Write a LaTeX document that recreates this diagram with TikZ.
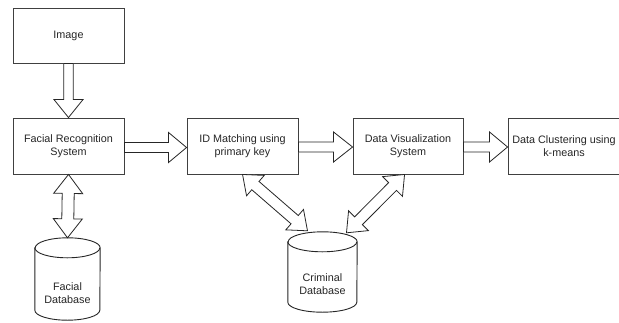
\documentclass[tikz,border=0pt]{standalone}
\usepackage{fontspec}
\setmainfont{Liberation Sans}
\usetikzlibrary{calc}

% hollow block arrow from #1 to #2: shaft half-width #3, head half-width #4, head length #5
\newcommand\blockarrow[5]{%
  \coordinate (ba-a) at (#1);
  \coordinate (ba-b) at (#2);
  \coordinate (ba-p) at ($(ba-b)!#5!(ba-a)$);
  \draw[arrowline]
    ($(ba-a)!#3!90:(ba-b)$) -- ($(ba-p)!#3!90:(ba-b)$) -- ($(ba-p)!#4!90:(ba-b)$)
    -- (ba-b)
    -- ($(ba-p)!#4!-90:(ba-b)$) -- ($(ba-p)!#3!-90:(ba-b)$) -- ($(ba-a)!#3!-90:(ba-b)$) -- cycle;
}
% hollow block arrow with heads at both ends
\newcommand\blockdarrow[5]{%
  \coordinate (ba-a) at (#1);
  \coordinate (ba-b) at (#2);
  \coordinate (ba-p) at ($(ba-b)!#5!(ba-a)$);
  \coordinate (ba-q) at ($(ba-a)!#5!(ba-b)$);
  \draw[arrowline]
    (ba-a) -- ($(ba-q)!#4!90:(ba-b)$) -- ($(ba-q)!#3!90:(ba-b)$)
    -- ($(ba-p)!#3!90:(ba-b)$) -- ($(ba-p)!#4!90:(ba-b)$)
    -- (ba-b)
    -- ($(ba-p)!#4!-90:(ba-b)$) -- ($(ba-p)!#3!-90:(ba-b)$)
    -- ($(ba-q)!#3!-90:(ba-b)$) -- ($(ba-q)!#4!-90:(ba-b)$) -- cycle;
}
% database cylinder drawn round node #1: half-width #2, end-ellipse radius #3
\newcommand\dbcylinder[3]{%
  \draw[cylline]
    ([yshift=-#3]#1.north west) -- ([yshift=#3]#1.south west)
    arc[start angle=180, end angle=360, x radius=#2, y radius=#3]
    -- ([yshift=-#3]#1.north east)
    arc[start angle=0, end angle=180, x radius=#2, y radius=#3] -- cycle;
  \draw[cylline, fill=none] ([yshift=-#3]#1.north west)
    arc[start angle=180, end angle=360, x radius=#2, y radius=#3];
}

\begin{document}
\begin{tikzpicture}[x=1pt,y=-1pt,
  font=\fontsize{10.8}{13}\selectfont,
  box/.style={draw=black!75, line width=0.9pt, fill=white, text=black!85,
    minimum width=111pt, minimum height=56pt, align=center, inner sep=0pt},
  dbspace/.style={minimum width=#1, inner sep=0pt},
  cylline/.style={draw=black!85, line width=0.9pt, fill=white},
  dblabel/.style={text=black!85, align=center},
  arrowline/.style={draw=black!85, line width=0.8pt, fill=white, line join=miter}]

\clip (0,0) rectangle (619,322);
\fill[white] (0,0) rectangle (619,322);

% process boxes
\node[box, minimum height=55pt] (img) at (68.5,35.5) {Image};
\node[box] (fr) at (68.5,146) {Facial Recognition\\System};
\node[box] (id) at (242.5,146) {ID Matching using\\primary key};
\node[box, minimum width=110pt] (dv) at (408,146) {Data Visualization\\System};
\node[box, minimum width=112pt] (dc) at (564,146) {Data Clustering using\\k-means};

% databases
\node[dbspace=65pt, minimum height=82pt] (fd) at (67.5,279) {};
\dbcylinder{fd}{32.5pt}{10pt}
\node[dblabel] (fdtext) at (67.5,293) {Facial\\Database};
\node[dbspace=69pt, minimum height=80pt] (cd) at (322.5,272) {};
\dbcylinder{cd}{34.5pt}{10pt}
\node[dblabel] (cdtext) at (322.5,284) {Criminal\\Database};

% flow arrows
\blockarrow{img.south}{fr.north}{4.8pt}{14.5pt}{18pt}
\blockarrow{[yshift=-1.5pt]fr.east}{[yshift=-1.5pt]id.west}{5pt}{15pt}{18pt}
\blockarrow{[yshift=-1pt]id.east}{[yshift=-1pt]dv.west}{5pt}{15pt}{19pt}
\blockarrow{[yshift=-1pt]dv.east}{[yshift=-1pt]dc.west}{5pt}{15pt}{18pt}

% database links
\blockdarrow{fr.south}{fd.north}{6pt}{14.5pt}{19pt}
\blockdarrow{[xshift=56pt]id.south west}{[xshift=-15pt,yshift=1pt]cd.north}{5.5pt}{13.5pt}{17pt}
\blockdarrow{[xshift=52pt]dv.south west}{[xshift=24pt,yshift=-1pt]cd.north}{5.5pt}{14pt}{17pt}

\end{tikzpicture}
\end{document}
